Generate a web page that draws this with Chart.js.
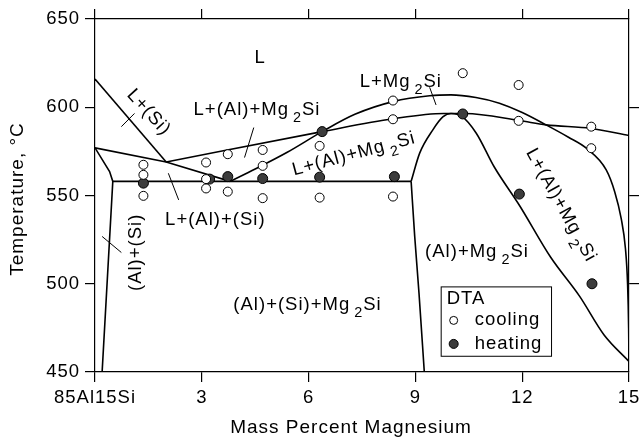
<!DOCTYPE html>
<html>
<head>
<meta charset="utf-8">
<script src="https://cdn.jsdelivr.net/npm/chart.js@4.4.0/dist/chart.umd.min.js"></script>
<style>
  html, body { margin: 0; padding: 0; background: #fff; }
</style>
</head>
<body>
<canvas id="chart" width="639" height="439"></canvas>
<script>
// Axis ticks
const xTicks = [0, 3, 6, 9, 12, 15];
const xTickLabels = ['85Al15Si', '3', '6', '9', '12', '15'];
const yTicks = [450, 500, 550, 600, 650];

// DTA points (mass % Mg, temperature °C)
const coolingMg = [1.36, 1.36, 1.36, 3.12, 3.12, 3.12, 3.73, 3.73, 4.71, 4.71, 4.71, 6.31, 6.31, 8.37, 8.37, 8.37, 10.33, 11.9, 11.9, 13.94, 13.94];
const coolingT = [567.4, 561.7, 549.8, 568.7, 559.3, 554.0, 573.4, 552.2, 575.8, 566.8, 548.5, 578.1, 548.8, 603.8, 593.2, 549.4, 619.3, 612.6, 592.3, 589.0, 576.8];
const heatingMg = [1.36, 3.22, 3.73, 4.71, 6.38, 6.31, 8.41, 10.33, 11.92, 13.96];
const heatingT = [557.0, 559.3, 560.7, 559.6, 586.2, 560.4, 560.7, 596.2, 550.8, 500.0];

// Phase boundaries
const siLiqMg = [0, 2.0];
const siLiqT = [616, 569];
const alLiqMg = [0, 2.0, 3.8];
const alLiqT = [577, 569, 558];
const mg2siValleyMg = [2.0, 6.38, 8.37, 9.8, 10.4, 11.92, 12.67, 13.94, 15];
const mg2siValleyT = [569, 586.2, 593.5, 596.5, 596.5, 592.5, 590, 588, 584];
const domeMg = [3.8, 4.5, 5.4, 6.38, 7.3, 8.37, 9.4, 10.0, 10.7, 11.36, 12.0, 12.67, 13.3, 13.8, 14.36, 14.6, 14.78, 14.9, 14.96, 14.99, 15];
const domeT = [558, 565, 574.5, 586.2, 596, 603.2, 606.5, 607, 605.5, 602.3, 597, 590, 583, 576.8, 564.5, 552, 537, 520, 500, 475, 456];
const eutecticMg = [0.5, 8.88];
const eutecticT = [558, 558];
const alSolvusMg = [0, 0.41, 0.5, 0.2];
const alSolvusT = [577, 563.6, 558, 450];
const threePhaseMg = [8.88, 8.98, 9.1, 9.25];
const threePhaseT = [558, 527, 495, 450];
const mg2siSolvusMg = [8.88, 9.12, 9.49, 9.77, 10.0, 10.3, 10.71, 11.22, 11.92, 12.8, 13.61, 14.3, 15];
const mg2siSolvusT = [558, 574, 587.2, 594.5, 596.5, 595, 585.3, 566, 544.5, 515, 493, 471, 456];

// Short leader lines for region labels
const leaders = [
    [[0.74, 589], [1.11, 596.5]],
    [[4.2, 571.5], [4.46, 588.5]],
    [[2.06, 562.6], [2.35, 547.5]],
    [[9.4, 611.3], [9.58, 601.3]],
    [[0.2, 526.8], [0.74, 517.7]]
];

const FONT = '"Liberation Sans", Arial, Helvetica, sans-serif';

const toPoints = (xs, ys) => xs.map((x, i) => ({ x: x, y: ys[i] }));

const boundary = (xs, ys, smooth) => ({
    data: toPoints(xs, ys),
    showLine: true,
    borderColor: '#000',
    borderWidth: 1.6,
    pointRadius: 0,
    cubicInterpolationMode: smooth ? 'monotone' : 'default',
    tension: 0,
    order: 2
});

// Region labels: text, Mg %, temperature (baseline centre), rotation in degrees
const regionLabels = [
    ['L', 4.64, 625, 0],
    ['L+(Si)', 1.40, 595.1, 48],
    ['L+(Al)+Mg_2Si', 4.55, 595.7, 0],
    ['L+Mg_2Si', 8.59, 611.7, 0],
    ['L+(Al)+Mg_2Si', 7.31, 570.6, -15],
    ['L+(Al)+(Si)', 3.38, 533.4, 0],
    ['(Al)+(Si)', 1.30, 517.8, -90],
    ['(Al)+(Si)+Mg_2Si', 5.97, 485.3, 0],
    ['(Al)+Mg_2Si', 10.73, 515.4, 0],
    ['L+(Al)+Mg_2Si', 12.96, 543.1, 61]
];

// Draw text with "_2" style subscripts
const drawRich = (ctx, text, x, y, rot, size) => {
    const parts = text.split(/(_\d)/).filter(p => p.length).map(p =>
        p[0] === '_' ? { t: p.slice(1), sub: true } : { t: p, sub: false });
    ctx.save();
    ctx.translate(x, y);
    ctx.rotate(rot * Math.PI / 180);
    ctx.letterSpacing = '1px';
    ctx.textBaseline = 'alphabetic';
    ctx.textAlign = 'left';
    let total = 0;
    parts.forEach(p => {
        ctx.font = (p.sub ? size * 0.78 : size) + 'px ' + FONT;
        p.w = ctx.measureText(p.t).width;
        p.pre = p.sub ? 4 : 0;
        total += p.w + p.pre;
    });
    let cx = -total / 2;
    parts.forEach(p => {
        ctx.font = (p.sub ? size * 0.78 : size) + 'px ' + FONT;
        cx += p.pre;
        ctx.fillText(p.t, cx, p.sub ? 7 : 0);
        cx += p.w;
    });
    ctx.restore();
};

const annotations = {
    id: 'annotations',
    beforeDraw(chart) {
        chart.ctx.letterSpacing = '1px';
    },
    afterDatasetsDraw(chart) {
        const ctx = chart.ctx;
        const xs = chart.scales.x;
        const ys = chart.scales.y;
        ctx.save();
        ctx.fillStyle = '#000';
        regionLabels.forEach(l => {
            drawRich(ctx, l[0], xs.getPixelForValue(l[1]), ys.getPixelForValue(l[2]), l[3], 18.5);
        });

        // legend box
        const bx = xs.getPixelForValue(9.71);
        const by = ys.getPixelForValue(498.5);
        const bw = xs.getPixelForValue(12.81) - bx;
        const bh = ys.getPixelForValue(459.2) - by;
        ctx.fillStyle = '#fff';
        ctx.fillRect(bx, by, bw, bh);
        ctx.strokeStyle = '#000';
        ctx.lineWidth = 1;
        ctx.strokeRect(bx + 0.5, by + 0.5, bw, bh);
        ctx.fillStyle = '#000';
        ctx.letterSpacing = '1px';
        ctx.font = '18.5px ' + FONT;
        ctx.textAlign = 'left';
        ctx.textBaseline = 'alphabetic';
        ctx.fillText('DTA', bx + 6, by + 18);
        ctx.fillText('cooling', bx + 34, by + 39);
        ctx.fillText('heating', bx + 34, by + 63);
        ctx.beginPath();
        ctx.arc(bx + 13, by + 34, 4, 0, Math.PI * 2);
        ctx.fillStyle = '#fff';
        ctx.fill();
        ctx.strokeStyle = '#000';
        ctx.stroke();
        ctx.beginPath();
        ctx.arc(bx + 13, by + 57.5, 4.5, 0, Math.PI * 2);
        ctx.fillStyle = '#3c3c3c';
        ctx.fill();
        ctx.stroke();

        // axis titles
        ctx.fillStyle = '#000';
        ctx.font = '19px ' + FONT;
        ctx.textAlign = 'center';
        ctx.fillText('Mass Percent Magnesium', 351, 433);
        ctx.save();
        ctx.translate(23, 199);
        ctx.rotate(-Math.PI / 2);
        ctx.fillText('Temperature, °C', 0, 0);
        ctx.restore();
        ctx.restore();
    }
};

const axisBase = {
    grid: { drawOnChartArea: false, drawTicks: true, tickLength: 10, color: '#000', lineWidth: 1.2 },
    border: { color: '#000', width: 1.2 }
};

const datasets = [
    {
        data: toPoints(coolingMg, coolingT),
        pointRadius: 4.5,
        pointBackgroundColor: '#fff',
        pointBorderColor: '#000',
        pointBorderWidth: 1,
        showLine: false,
        order: 0
    },
    {
        data: toPoints(heatingMg, heatingT),
        pointRadius: 5,
        pointBackgroundColor: '#3c3c3c',
        pointBorderColor: '#000',
        pointBorderWidth: 1,
        showLine: false,
        order: 0
    },
    boundary(siLiqMg, siLiqT, false),
    boundary(alLiqMg, alLiqT, false),
    boundary(mg2siValleyMg, mg2siValleyT, true),
    boundary(domeMg, domeT, true),
    boundary(eutecticMg, eutecticT, false),
    boundary(alSolvusMg, alSolvusT, false),
    boundary(threePhaseMg, threePhaseT, true),
    boundary(mg2siSolvusMg, mg2siSolvusT, true)
];
leaders.forEach(seg => {
    const d = boundary([seg[0][0], seg[1][0]], [seg[0][1], seg[1][1]], false);
    d.borderWidth = 1;
    datasets.push(d);
});

new Chart(document.getElementById('chart'), {
    type: 'scatter',
    data: { datasets: datasets },
    options: {
        responsive: false,
        animation: false,
        layout: { padding: 0 },
        plugins: { legend: { display: false }, tooltip: { enabled: false } },
        scales: {
            x: {
                ...axisBase,
                type: 'linear', position: 'bottom', min: 0, max: 15,
                afterBuildTicks: s => { s.ticks = xTicks.map(v => ({ value: v })); },
                ticks: {
                    autoSkip: false, maxRotation: 0, padding: 5, color: '#000',
                    font: { size: 18.5, family: FONT },
                    callback: v => xTickLabels[xTicks.indexOf(v)]
                },
                afterFit: s => { s.height = 67; s.paddingLeft = 0; s.paddingRight = 0; }
            },
            x2: {
                ...axisBase,
                type: 'linear', position: 'top', min: 0, max: 15,
                afterBuildTicks: s => { s.ticks = xTicks.map(v => ({ value: v })); },
                ticks: { display: false },
                afterFit: s => { s.height = 19; s.paddingLeft = 0; s.paddingRight = 0; }
            },
            y: {
                ...axisBase,
                type: 'linear', position: 'left', min: 450, max: 650,
                afterBuildTicks: s => { s.ticks = yTicks.map(v => ({ value: v })); },
                ticks: { padding: 5, color: '#000', font: { size: 18.5, family: FONT } },
                afterFit: s => { s.width = 95; s.paddingTop = 0; s.paddingBottom = 0; }
            },
            y2: {
                ...axisBase,
                type: 'linear', position: 'right', min: 450, max: 650,
                afterBuildTicks: s => { s.ticks = [500, 550, 600].map(v => ({ value: v })); },
                ticks: { display: false },
                afterFit: s => { s.width = 10; s.paddingTop = 0; s.paddingBottom = 0; }
            }
        }
    },
    plugins: [annotations]
});
</script>
</body>
</html>
